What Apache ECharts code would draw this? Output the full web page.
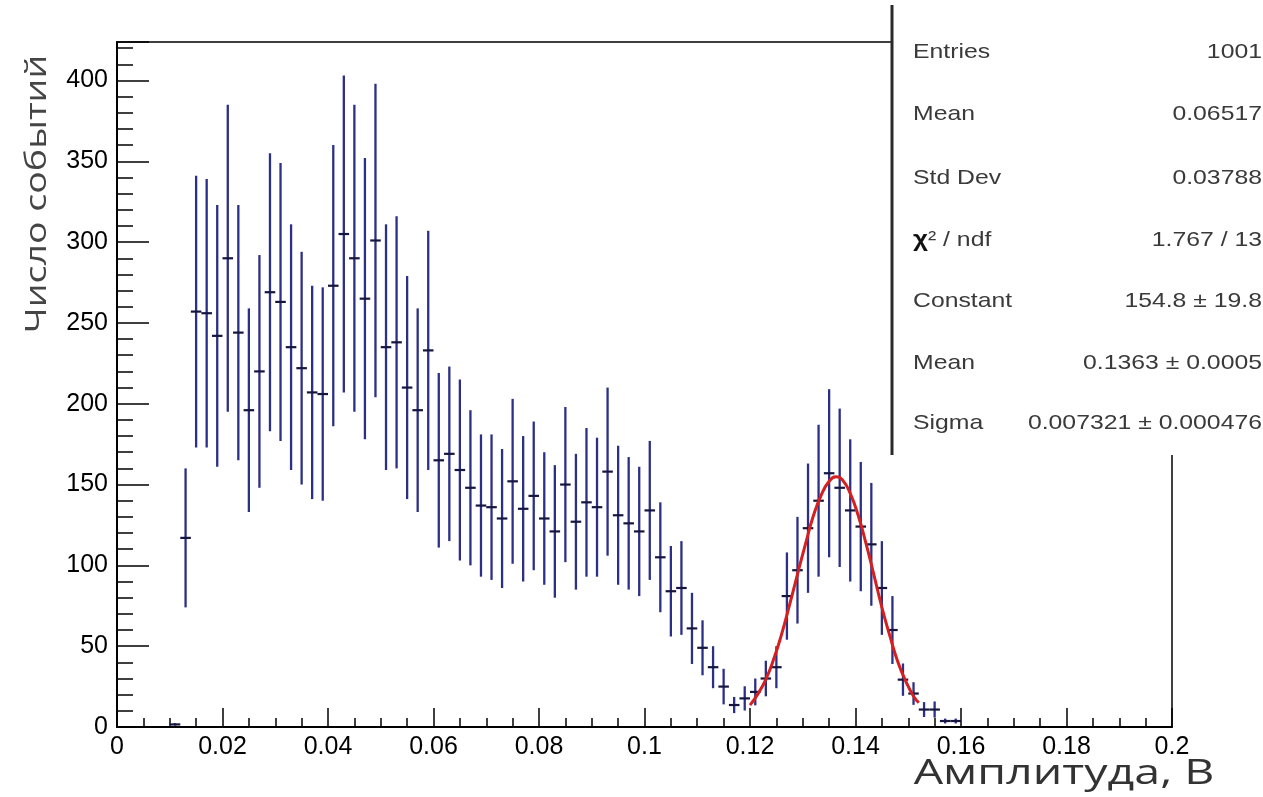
<!DOCTYPE html>
<html>
<head>
<meta charset="utf-8">
<script src="https://cdn.jsdelivr.net/npm/echarts@6/dist/echarts.min.js"></script>
<style>
  html, body { margin: 0; padding: 0; background: #fff; }
  #main { width: 1263px; height: 797px; }
</style>
</head>
<body>
<div id="main"></div>
<script>
// histogram bins (centres), contents and errors
var binWidth = 0.002;
var binCenters = [
  0.011, 0.013, 0.015, 0.017, 0.019, 0.021, 0.023, 0.025, 0.027, 0.029,
  0.031, 0.033, 0.035, 0.037, 0.039, 0.041, 0.043, 0.045, 0.047, 0.049,
  0.051, 0.053, 0.055, 0.057, 0.059, 0.061, 0.063, 0.065, 0.067, 0.069,
  0.071, 0.073, 0.075, 0.077, 0.079, 0.081, 0.083, 0.085, 0.087, 0.089,
  0.091, 0.093, 0.095, 0.097, 0.099, 0.101, 0.103, 0.105, 0.107, 0.109,
  0.111, 0.113, 0.115, 0.117, 0.119, 0.121, 0.123, 0.125, 0.127, 0.129,
  0.131, 0.133, 0.135, 0.137, 0.139, 0.141, 0.143, 0.145, 0.147, 0.149,
  0.151, 0.153, 0.155, 0.157, 0.159
];
var counts = [
  1.6, 117, 257, 256, 242, 290, 244, 196, 220, 269,
  263, 235, 222, 207, 206, 273, 305, 290, 265, 301,
  235, 238, 210, 196, 233, 165, 169, 159, 148, 137,
  136, 129, 152, 135, 143, 129, 121, 150, 127, 139,
  136, 158, 131, 126, 121, 134, 105, 84, 86, 61,
  49, 37, 25, 13.6, 17.7, 21.7, 30, 37, 81, 97,
  123, 140, 157, 148, 134, 124, 113, 86, 60, 29.3,
  20.7, 10.8, 10.8, 3.7, 3.7
];
var errors = [
  0.8, 43, 84, 83, 81, 95, 79, 63, 72, 86,
  86, 76, 72, 66, 66, 87, 98, 95, 87, 97,
  76, 78, 69, 63, 74, 54, 54, 56, 48, 44,
  45, 43, 51, 45, 46, 41, 41, 48, 42, 46,
  43, 52, 43, 41, 40, 43, 34, 28, 29, 22,
  17, 13, 11, 5, 7.5, 8.3, 11, 13, 27, 33,
  40, 47, 52, 49, 44, 40, 38, 29, 21, 10,
  7, 4.6, 5, 1.5, 1.5
];

// gaussian fit curve
var fitX = [0.120, 0.1215, 0.123, 0.1245, 0.126, 0.1275, 0.129, 0.1305, 0.132, 0.1335, 0.135,
            0.1363, 0.1375, 0.139, 0.1405, 0.142, 0.1435, 0.145, 0.1465, 0.148, 0.1495, 0.151, 0.152];
var fitY = [13.5, 20.5, 29.5, 42, 57.5, 75.5, 94.5, 113, 130.5, 143.5, 152,
            154.8, 153, 144.5, 131, 113.5, 94, 74, 56.5, 40.5, 28.5, 19, 15];

var statLabels = ['Entries', 'Mean', 'Std Dev', '{c|\u03c7}{n|\u00b2 / ndf}', 'Constant', 'Mean', 'Sigma'];
var statValues = ['1001', '0.06517', '0.03788', '1.767 / 13', '154.8 \u00b1 19.8',
                  '0.1363 \u00b1 0.0005', '0.007321 \u00b1 0.000476'];
var statRows = [52, 114, 178, 240, 301, 363, 423];

var yMax = 423.8;
var barColor = '#2c2f86';
var tickFont = { fontFamily: 'Liberation Sans, Arial, sans-serif', fontSize: 25, color: '#000' };

var myChart = echarts.init(document.getElementById('main'));

var points = binCenters.map(function (x, i) { return [x, counts[i], errors[i]]; });
var fitData = fitX.map(function (x, i) { return [x, fitY[i]]; });

var statFont = { fontFamily: 'Liberation Sans, Arial, sans-serif', fontSize: 21, fill: '#3a3a3a' };
var statEls = [];
statRows.forEach(function (y, i) {
    statEls.push({
        type: 'text', x: 913, y: y, scaleX: 1.18, z: 101,
        style: Object.assign({
            text: statLabels[i], align: 'left', verticalAlign: 'middle',
            rich: {
                c: { fontFamily: 'Liberation Sans, Arial', fontSize: 22, fontWeight: 'bold', fill: '#111' },
                n: { fontFamily: 'Liberation Sans, Arial', fontSize: 21, fill: '#3a3a3a' }
            }
        }, statFont)
    });
    statEls.push({
        type: 'text', x: 1262, y: y, scaleX: 1.18, z: 101,
        style: Object.assign({ text: statValues[i], align: 'right', verticalAlign: 'middle' }, statFont)
    });
});

var option = {
    animation: false,
    grid: {
        left: 117, right: 91, top: 42, bottom: 70,
        show: true, borderColor: '#000', borderWidth: 1.5, backgroundColor: 'transparent'
    },
    xAxis: {
        type: 'value', min: 0, max: 0.2, interval: 0.02,
        axisLine: { lineStyle: { color: '#000', width: 2 } },
        axisTick: { inside: true, length: 19, lineStyle: { color: '#000', width: 1.5 } },
        minorTick: { show: true, splitNumber: 4, length: 9, lineStyle: { color: '#000', width: 1.5 } },
        splitLine: { show: false },
        axisLabel: Object.assign({
            margin: 8,
            formatter: function (v) { return String(+v.toFixed(3)); }
        }, tickFont)
    },
    yAxis: [{
        type: 'value', min: 0, max: yMax, interval: 50,
        axisLine: { show: true, lineStyle: { color: '#000', width: 2 } },
        axisTick: { show: true, inside: true, length: 32, lineStyle: { color: '#000', width: 1.5 } },
        splitLine: { show: false },
        axisLabel: Object.assign({
            margin: 9,
            formatter: function (v) { return v % 50 === 0 ? String(v) : ''; }
        }, tickFont)
    }, {
        // minor ticks every 10
        type: 'value', min: 0, max: yMax, interval: 10, position: 'left',
        axisLine: { show: false },
        axisTick: { show: true, inside: true, length: 16, lineStyle: { color: '#000', width: 1.5 } },
        splitLine: { show: false },
        axisLabel: { show: false }
    }],
    series: [{
        type: 'custom',
        data: points,
        z: 3,
        renderItem: function (params, api) {
            var x = api.value(0), y = api.value(1), e = api.value(2);
            var top = api.coord([x, y + e]);
            var bot = api.coord([x, Math.max(0, y - e)]);
            var l = api.coord([x - binWidth / 2, y]);
            var r = api.coord([x + binWidth / 2, y]);
            return {
                type: 'group',
                children: [
                    { type: 'line', shape: { x1: top[0], y1: top[1], x2: bot[0], y2: bot[1] },
                      style: { stroke: barColor, lineWidth: 2.3 } },
                    { type: 'line', shape: { x1: l[0], y1: l[1], x2: r[0], y2: r[1] },
                      style: { stroke: '#15163f', lineWidth: 2.2 } }
                ]
            };
        }
    }, {
        type: 'line',
        data: fitData,
        smooth: true,
        showSymbol: false,
        z: 5,
        lineStyle: { color: '#d42020', width: 3 }
    }],
    graphic: [
        { type: 'rect', z: 100, shape: { x: 893, y: 0, width: 370, height: 455 }, style: { fill: '#fff' } },
        { type: 'line', z: 101, shape: { x1: 892, y1: 5, x2: 892, y2: 455 }, style: { stroke: '#2a2a2a', lineWidth: 3 } },
        { type: 'text', z: 101, x: 37, y: 194, rotation: Math.PI / 2, scaleX: 1.25,
          style: { text: 'Число событий', align: 'center', verticalAlign: 'middle',
                   fontFamily: 'Open Sans, Lato, sans-serif', fontWeight: 400, fontSize: 30, fill: '#454545' } },
        { type: 'text', z: 101, x: 1064, y: 774, scaleX: 1.33,
          style: { text: 'Амплитуда, В', align: 'center', verticalAlign: 'middle',
                   fontFamily: 'Open Sans, Lato, sans-serif', fontWeight: 400, fontSize: 35, fill: '#333' } }
    ].concat(statEls)
};
myChart.setOption(option);
</script>
</body>
</html>
